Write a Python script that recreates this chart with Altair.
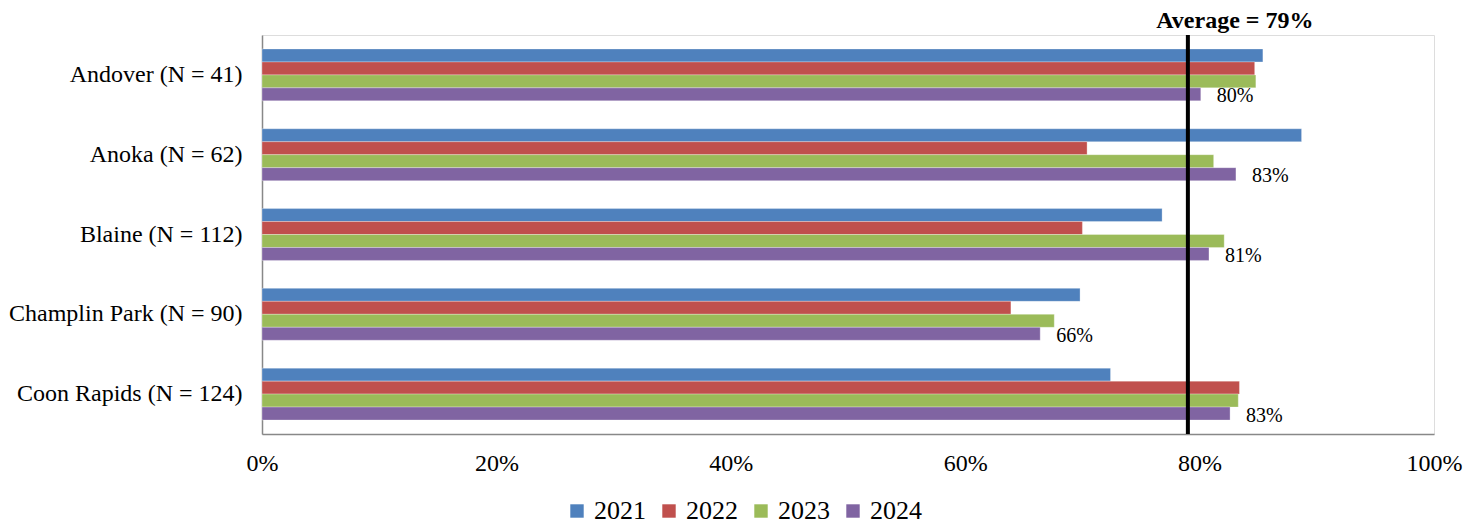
import altair as alt
import pandas as pd

schools = ["Andover (N = 41)", "Anoka (N = 62)", "Blaine (N = 112)",
           "Champlin Park (N = 90)", "Coon Rapids (N = 124)"]
years = ["2021", "2022", "2023", "2024"]
v2021 = [85.4, 88.7, 76.8, 69.8, 72.4]
v2022 = [84.7, 70.4, 70.0, 63.9, 83.4]
v2023 = [84.8, 81.2, 82.1, 67.6, 83.3]
v2024 = [80.1, 83.1, 80.8, 66.4, 82.6]
average = 79
x_ticks = [0, 20, 40, 60, 80, 100]
colors = ["#4F81BD", "#C0504D", "#9BBB59", "#8064A2"]

rows = []
for yr, vals in zip(years, [v2021, v2022, v2023, v2024]):
    for s, v in zip(schools, vals):
        rows.append({"school": s, "year": yr, "value": v})
df = pd.DataFrame(rows)
avg_df = pd.DataFrame({"avg": [average], "label": [f"Average = {average}%"]})

FONT = "Liberation Serif"

x_enc = alt.X("value:Q",
              scale=alt.Scale(domain=[0, 100], nice=False),
              axis=alt.Axis(title=None, values=x_ticks, labelExpr="datum.value + '%'",
                            grid=False, ticks=False, tickSize=0, labelPadding=17,
                            labelFlush=False, labelOverlap=False,
                            labelFont=FONT, labelFontSize=24, labelColor="black",
                            domainColor="#888888", domainWidth=1.5))
y_enc = alt.Y("school:N", sort=schools,
              scale=alt.Scale(paddingInner=0.35, paddingOuter=0.175),
              axis=alt.Axis(title=None, ticks=False, tickSize=0, labelPadding=20,
                            labelLimit=400,
                            labelFont=FONT, labelFontSize=24, labelColor="black",
                            domainColor="#888888", domainWidth=1.5))
yoff = alt.YOffset("year:N", sort=years, scale=alt.Scale(domain=years))

bars = alt.Chart(df).mark_bar(stroke="white", strokeWidth=0.5, strokeOpacity=0.6).encode(
    x=x_enc, y=y_enc, yOffset=yoff,
    color=alt.Color("year:N", scale=alt.Scale(domain=years, range=colors),
                    legend=alt.Legend(title=None, orient="none", direction="horizontal",
                                      legendX=302, legendY=463,
                                      symbolType="square", symbolSize=180,
                                      symbolStrokeWidth=0, labelOffset=4,
                                      columnPadding=10,
                                      labelFont=FONT, labelFontSize=26, labelColor="black"))
)

labels = alt.Chart(df).transform_filter(alt.datum.year == "2024").transform_calculate(
    lbl="format(datum.value, '.0f') + '%'"
).mark_text(
    align="left", baseline="middle", dx=16, dy=2, font=FONT, fontSize=20, color="black"
).encode(
    x="value:Q", y=alt.Y("school:N", sort=schools), yOffset=yoff, text="lbl:N"
)

avg_rule = alt.Chart(avg_df).mark_rule(color="black", strokeWidth=4).encode(x="avg:Q")
avg_text = alt.Chart(avg_df).mark_text(
    font=FONT, fontSize=24, fontWeight="bold", color="black", align="center",
    baseline="middle", dx=47
).encode(x="avg:Q", y=alt.value(-14), text="label:N")

chart = alt.layer(bars, labels, avg_rule, avg_text).properties(
    width=1172, height=399
).configure_view(stroke=None).configure_legend(
    labelFont=FONT, labelFontSize=26, labelColor="black"
).configure(background="white", font=FONT,
            padding={"left": 0, "top": 1, "right": 5, "bottom": 0})

chart.save("out.html", embed_options={"renderer": "svg", "actions": False})
